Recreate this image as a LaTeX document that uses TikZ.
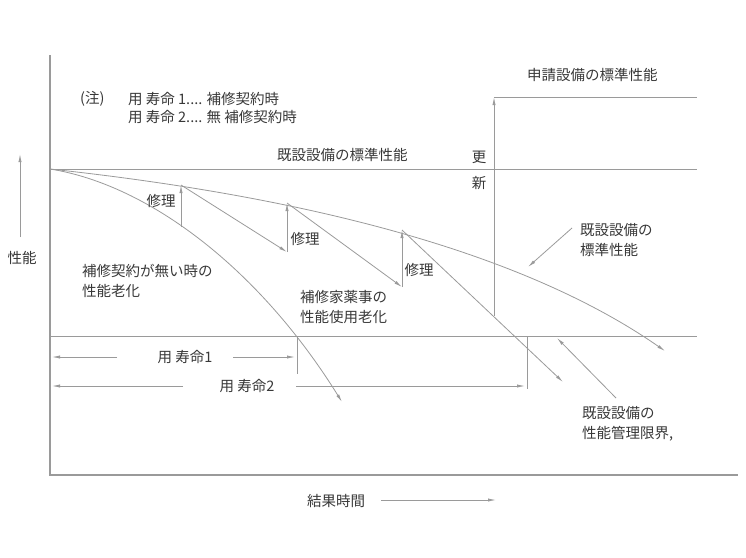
\documentclass[tikz,border=0pt]{standalone}
\usepackage{fontspec}
\setmainfont{Noto Sans CJK JP}
\usepackage{tikz}
\usetikzlibrary{arrows.meta}
\definecolor{lgray}{HTML}{9A9A9A}
\definecolor{dgray}{HTML}{383838}

\begin{document}
\begin{tikzpicture}[x=1pt,y=-1pt]
  \tikzstyle{ln} = [draw=lgray, line width=0.8pt]
  \tikzstyle{ar} = [ln, -{Latex[length=8pt,width=3.2pt]}]
  \tikzstyle{ax} = [draw=lgray, line width=2pt]
  \tikzstyle{t} = [text=dgray, inner sep=0pt, font=\fontsize{14.5}{20.5}\selectfont]
  \tikzstyle{tl} = [t, anchor=west, align=left]
  \useasboundingbox (0,0) rectangle (746,557);

  % axes
  \coordinate (ytop) at (50,55);
  \coordinate (o) at (50,475);
  \coordinate (xend) at (738,475);
  \draw[ax](ytop)--(o)--(xend);
  \coordinate (ya0) at (20,237);
  \coordinate (ya1) at (20,154);
  \draw[ar](ya0)--(ya1);
  \coordinate (xa0) at (381,500);
  \coordinate (xa1) at (496,500);
  \draw[ar](xa0)--(xa1);
  \node[t](perf) at (22,258){性能};
  \node[t](time) at (336,501){結果時間};

  % levels
  \coordinate (s0) at (50,169);
  \coordinate (s1) at (697,169);
  \coordinate (n0) at (494,97);
  \coordinate (n1) at (697,97);
  \coordinate (u0) at (494,316);
  \coordinate (l0) at (50,336);
  \coordinate (l1) at (697,336);
  \draw[ln](s0)--(s1);
  \draw[ln](n0)--(n1);
  \draw[ar](u0)--(n0);
  \draw[ln](l0)--(l1);

  % curves
  \coordinate (c1) at (342,402);
  \coordinate (c2) at (665,351);
  \draw[ar](s0) .. controls (150,185) and (260,270) .. (c1);
  \draw[ar](s0) .. controls (300,196) and (520,250) .. (c2);

  % repairs
  \coordinate (b1) at (181,227);
  \coordinate (p1) at (181,185);
  \coordinate (b2) at (287,252);
  \coordinate (p2) at (287,203);
  \coordinate (b3) at (402,287);
  \coordinate (p3) at (402,230);
  \coordinate (e3) at (563,382);
  \draw[ar](b1)--(p1);
  \draw[ar](p1)--(b2);
  \draw[ar](b2)--(p2);
  \draw[ar](p2)--(b3);
  \draw[ar](b3)--(p3);
  \draw[ar](p3)--(e3);
  \node[t](rep1) at (161,201){修理};
  \node[t](rep2) at (305,239){修理};
  \node[t](rep3) at (419,270){修理};

  % life spans
  \coordinate (d1a) at (52,357);
  \coordinate (d1b) at (117,357);
  \coordinate (d1c) at (233,357);
  \coordinate (d1d) at (295,357);
  \coordinate (k1a) at (297,336);
  \coordinate (k1b) at (297,374);
  \draw[ar](d1b)--(d1a);
  \draw[ar](d1c)--(d1d);
  \draw[ln](k1a)--(k1b);
  \node[t](life1) at (185,357){用 寿命1};
  \coordinate (d2a) at (52,386);
  \coordinate (d2b) at (183,386);
  \coordinate (d2c) at (296,386);
  \coordinate (d2d) at (525,386);
  \coordinate (k2a) at (527,336);
  \coordinate (k2b) at (527,389);
  \draw[ar](d2b)--(d2a);
  \draw[ar](d2c)--(d2d);
  \draw[ln](k2a)--(k2b);
  \node[t](life2) at (247,386){用 寿命2};

  % pointers
  \coordinate (q1) at (572,228);
  \coordinate (q2) at (528,267);
  \draw[ar](q1)--(q2);
  \coordinate (r1) at (616,398);
  \coordinate (r2) at (557,338);
  \draw[ar](r1)--(r2);

  % labels
  \node[tl](note) at (80,99){(注)};
  \node[tl](note1) at (128,99){用 寿命 1.... 補修契約時};
  \node[tl](note2) at (128,117){用 寿命 2.... 無 補修契約時};
  \node[tl](std) at (277,155){既設設備の標準性能};
  \node[t](kou) at (479,157){更};
  \node[t](shin) at (479,183){新};
  \node[tl](newstd) at (527,75){申請設備の標準性能};
  \node[tl](nomaint) at (82,281){補修契約が無い時の\\性能老化};
  \node[tl](use) at (300,307){補修家薬事の\\性能使用老化};
  \node[tl](envl) at (580,240){既設設備の\\標準性能};
  \node[tl](liml) at (582,424){既設設備の\\性能管理限界,};
\end{tikzpicture}
\end{document}
